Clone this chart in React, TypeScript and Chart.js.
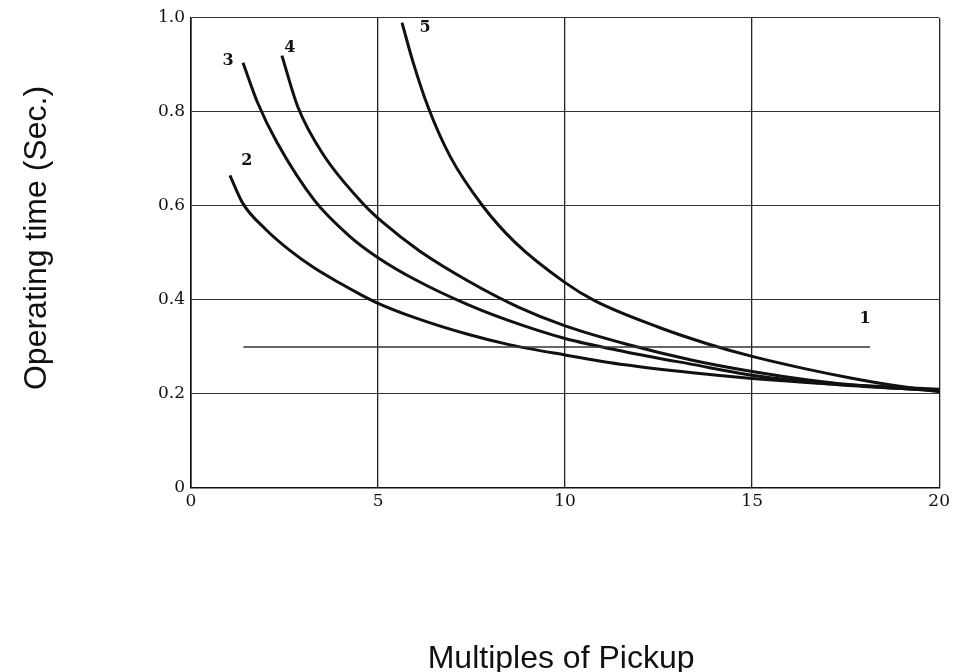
import React, { useEffect, useRef } from "react";
import { Chart, registerables } from "chart.js";

Chart.register(...registerables);

// ---- Data ----
const xTicks = [0, 5, 10, 15, 20];
const xTickLabels = ["0", "5", "10", "15", "20"];
const yTicks = [0, 0.2, 0.4, 0.6, 0.8, 1.0];
const yTickLabels = ["0", "0.2", "0.4", "0.6", "0.8", "1.0"];

const xTitle = "Multiples of Pickup";
const yTitle = "Operating time (Sec.)";

const seriesNames = ["1", "2", "3", "4", "5"];

const curve1X = [1.4, 18.15];
const curve1Y = [0.3, 0.3];

const curve2X = [1.04, 1.39, 2.0, 2.65, 3.3, 4.0, 4.5, 5.0, 6.0, 7.4, 8.5, 10, 11.6, 13.4, 15, 17, 20];
const curve2Y = [0.665, 0.605, 0.55, 0.505, 0.468, 0.435, 0.413, 0.393, 0.362, 0.327, 0.305, 0.283, 0.262, 0.245, 0.233, 0.222, 0.21];

const curve3X = [1.39, 1.79, 2.3, 3.3, 4.25, 5.0, 6.0, 7.4, 8.5, 10, 11.6, 13.4, 15, 17, 20];
const curve3Y = [0.905, 0.818, 0.735, 0.612, 0.535, 0.49, 0.443, 0.39, 0.356, 0.318, 0.29, 0.263, 0.24, 0.222, 0.207];

const curve4X = [2.43, 2.86, 3.53, 4.6, 5.13, 6.1, 7.42, 8.75, 10, 11.6, 13.4, 15, 16.5, 18, 20];
const curve4Y = [0.92, 0.81, 0.71, 0.605, 0.565, 0.505, 0.44, 0.385, 0.345, 0.307, 0.272, 0.248, 0.23, 0.217, 0.207];

const curve5X = [5.64, 5.94, 6.34, 6.93, 7.8, 8.67, 10, 10.8, 12.5, 13.8, 15, 16.4, 17.7, 18.8, 20];
const curve5Y = [0.99, 0.905, 0.81, 0.705, 0.6, 0.522, 0.437, 0.398, 0.342, 0.307, 0.28, 0.254, 0.233, 0.218, 0.205];

const seriesX = [curve1X, curve2X, curve3X, curve4X, curve5X];
const seriesY = [curve1Y, curve2Y, curve3Y, curve4Y, curve5Y];

// label placement (style): anchor point of the curve + pixel offset
const labelPlacement = [
  { at: "end", dx: -5, dy: -28 },
  { at: "start", dx: 17, dy: -15 },
  { at: "start", dx: -15, dy: -2 },
  { at: "start", dx: 8, dy: -8 },
  { at: "start", dx: 23, dy: 5 },
];

const curveLabelsPlugin = {
  id: "curveLabels",
  afterDatasetsDraw(chart: any) {
    const ctx = chart.ctx;
    ctx.save();
    ctx.fillStyle = "#111";
    ctx.font = 'bold 16px "DejaVu Serif", "Liberation Serif", serif';
    ctx.textAlign = "center";
    ctx.textBaseline = "middle";
    chart.data.datasets.forEach((ds: any, i: number) => {
      const meta = chart.getDatasetMeta(i);
      const pts = meta.data;
      if (!pts.length) return;
      const p = labelPlacement[i];
      const pt = p.at === "end" ? pts[pts.length - 1] : pts[0];
      ctx.fillText(ds.label, pt.x + p.dx, pt.y + p.dy);
    });
    ctx.restore();
  },
};

const axisTitlesPlugin = {
  id: "axisTitles",
  afterDraw(chart: any) {
    const ctx = chart.ctx;
    const area = chart.chartArea;
    ctx.save();
    ctx.fillStyle = "#111";
    ctx.font = '32px "Liberation Sans", Arial, sans-serif';
    ctx.textAlign = "center";
    ctx.textBaseline = "alphabetic";
    // x title
    ctx.fillText(xTitle, (area.left + area.right) / 2 - 4, 668);
    // y title
    ctx.translate(46, (area.top + area.bottom) / 2 - 15);
    ctx.rotate(-Math.PI / 2);
    ctx.fillText(yTitle, 0, 0);
    ctx.restore();
  },
};

export default function App() {
  const canvasRef = useRef<HTMLCanvasElement | null>(null);

  useEffect(() => {
    document.body.style.margin = "0";
    const canvas = canvasRef.current;
    if (!canvas) return;

    const datasets = seriesNames.map((name, i) => ({
      label: name,
      data: seriesX[i].map((x, j) => ({ x, y: seriesY[i][j] })),
      borderColor: i === 0 ? "#333" : "#111",
      borderWidth: i === 0 ? 1.4 : 3,
      pointRadius: 0,
      fill: false,
      cubicInterpolationMode: "monotone" as const,
    }));

    const tickFont = { family: '"DejaVu Serif", "Liberation Serif", serif', size: 17 };

    const chart = new Chart(canvas, {
      type: "line",
      data: { datasets },
      plugins: [curveLabelsPlugin, axisTitlesPlugin],
      options: {
        animation: false,
        responsive: false,
        maintainAspectRatio: false,
        layout: { padding: { top: 18, right: 11, left: 0, bottom: 0 } },
        plugins: {
          legend: { display: false },
          tooltip: { enabled: false },
        },
        scales: {
          x: {
            type: "linear",
            min: 0,
            max: 20,
            afterBuildTicks: (scale: any) => {
              scale.ticks = xTicks.map((v) => ({ value: v }));
            },
            afterFit: (scale: any) => {
              scale.height = 184;
            },
            ticks: {
              color: "#111",
              font: tickFont,
              padding: 3,
              maxRotation: 0,
              callback: (_v: any, i: number) => xTickLabels[i],
            },
            grid: { color: "#222", lineWidth: 1.3, drawTicks: false },
            border: { color: "#111", width: 1.6 },
          },
          y: {
            type: "linear",
            min: 0,
            max: 1,
            afterBuildTicks: (scale: any) => {
              scale.ticks = yTicks.map((v) => ({ value: v }));
            },
            afterFit: (scale: any) => {
              scale.width = 191;
            },
            ticks: {
              color: "#111",
              font: tickFont,
              padding: 6,
              callback: (_v: any, i: number) => yTickLabels[i],
            },
            grid: { color: "#333", lineWidth: 1.1, drawTicks: false },
            border: { color: "#111", width: 1.6 },
          },
        },
      },
    });

    return () => {
      chart.destroy();
    };
  }, []);

  return (
    <div style={{ position: "absolute", left: 0, top: 0, width: 953, height: 672, background: "#fff" }}>
      <canvas ref={canvasRef} width={953} height={672} />
    </div>
  );
}
